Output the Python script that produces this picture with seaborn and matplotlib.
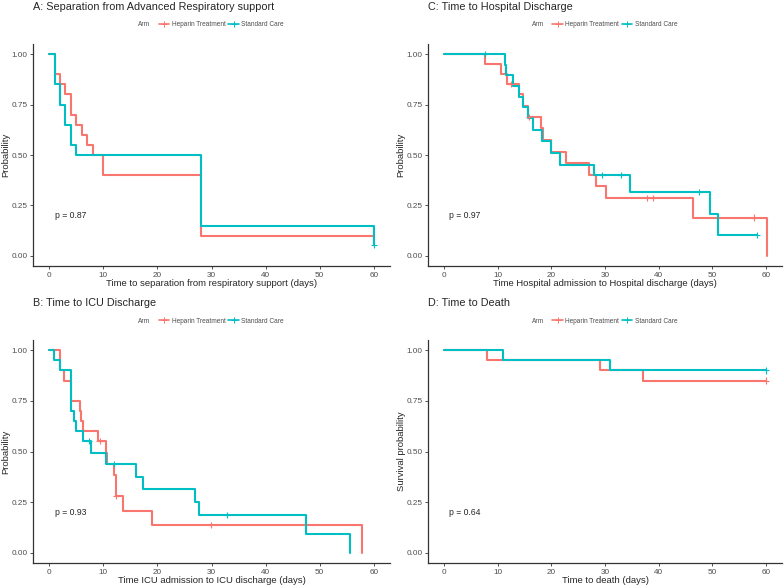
import pandas as pd
import matplotlib.pyplot as plt
import seaborn as sns
from matplotlib.lines import Line2D

ARMS = ['Heparin Treatment', 'Standard Care']
COLORS = {'Heparin Treatment': '#F8766D', 'Standard Care': '#00BFC4'}

# A: separation from advanced respiratory support
a_hep_t = [0, 1, 2, 3, 4, 5, 6, 7, 8, 10, 28, 60]
a_hep_s = [1.0, 0.90, 0.85, 0.80, 0.70, 0.65, 0.60, 0.55, 0.50, 0.40, 0.10, 0.10]
a_std_t = [0, 1, 2, 3, 4, 5, 28, 60]
a_std_s = [1.0, 0.85, 0.75, 0.65, 0.55, 0.50, 0.15, 0.055]
a_hep_cens = ([], [])
a_std_cens = ([60], [0.055])

# B: ICU discharge
b_hep_t = [0, 2.0, 2.8, 4.0, 5.7, 5.9, 6.2, 9.0, 10.5, 10.7, 11.9, 12.3, 13.6, 19.0, 57.8]
b_hep_s = [1.0, 0.90, 0.85, 0.75, 0.70, 0.65, 0.60, 0.55, 0.495, 0.44, 0.385, 0.28, 0.205, 0.138, 0.0]
b_std_t = [0, 0.9, 2.0, 4.0, 4.1, 4.5, 4.9, 6.2, 7.7, 10.5, 16.1, 17.3, 26.9, 27.6, 47.4, 55.6]
b_std_s = [1.0, 0.95, 0.90, 0.80, 0.70, 0.65, 0.60, 0.55, 0.495, 0.44, 0.375, 0.315, 0.25, 0.185, 0.095, 0.0]
b_hep_cens = ([9.3, 12.4, 29.9], [0.55, 0.28, 0.138])
b_std_cens = ([7.4, 12.0, 32.8], [0.55, 0.44, 0.185])

# C: hospital discharge
c_hep_t = [0, 7.7, 10.7, 11.8, 13.9, 14.7, 15.7, 18.1, 18.5, 19.9, 22.8, 27.0, 28.4, 30.2, 46.4, 60.2]
c_hep_s = [1.0, 0.95, 0.90, 0.85, 0.80, 0.745, 0.69, 0.633, 0.575, 0.517, 0.46, 0.40, 0.345, 0.287, 0.19, 0.0]
c_std_t = [0, 11.3, 11.6, 12.9, 14.0, 14.8, 15.7, 16.6, 18.3, 19.9, 21.7, 28.0, 34.6, 49.5, 51.1, 58.4]
c_std_s = [1.0, 0.947, 0.895, 0.842, 0.789, 0.737, 0.684, 0.625, 0.568, 0.508, 0.45, 0.40, 0.316, 0.21, 0.105, 0.105]
c_hep_cens = ([12.4, 15.8, 37.9, 39.0, 57.8], [0.85, 0.69, 0.287, 0.287, 0.19])
c_std_cens = ([7.7, 29.4, 32.9, 47.6, 58.4], [1.0, 0.40, 0.40, 0.316, 0.105])

# D: death
d_hep_t = [0, 8, 29, 37, 60]
d_hep_s = [1.0, 0.95, 0.90, 0.85, 0.85]
d_std_t = [0, 11, 31, 60]
d_std_s = [1.0, 0.95, 0.90, 0.90]
d_hep_cens = ([60], [0.85])
d_std_cens = ([60], [0.90])

panels = [
    dict(title='A: Separation from Advanced Respiratory support',
         xlabel='Time to separation from respiratory support (days)', ylabel='Probability',
         hep=(a_hep_t, a_hep_s), std=(a_std_t, a_std_s), hc=a_hep_cens, sc=a_std_cens,
         p='p = 0.87', pos=(33, 44, 390, 266)),
    dict(title='C: Time to Hospital Discharge',
         xlabel='Time Hospital admission to Hospital discharge (days)', ylabel='Probability',
         hep=(c_hep_t, c_hep_s), std=(c_std_t, c_std_s), hc=c_hep_cens, sc=c_std_cens,
         p='p = 0.97', pos=(428, 44, 782, 266)),
    dict(title='B: Time to ICU Discharge',
         xlabel='Time ICU admission to ICU discharge (days)', ylabel='Probability',
         hep=(b_hep_t, b_hep_s), std=(b_std_t, b_std_s), hc=b_hep_cens, sc=b_std_cens,
         p='p = 0.93', pos=(33, 340, 390, 563)),
    dict(title='D: Time to Death',
         xlabel='Time to death (days)', ylabel='Survival probability',
         hep=(d_hep_t, d_hep_s), std=(d_std_t, d_std_s), hc=d_hep_cens, sc=d_std_cens,
         p='p = 0.64', pos=(428, 340, 782, 563)),
]

sns.set_style("white")
plt.rcParams['font.family'] = ['Liberation Sans', 'DejaVu Sans']

W, H = 784, 585
fig = plt.figure(figsize=(W / 100, H / 100), dpi=100)

for pn in panels:
    l, t, r, b = pn['pos']
    ax = fig.add_axes([l / W, 1 - b / H, (r - l) / W, (b - t) / H])

    curves = pd.DataFrame({
        'time': list(pn['hep'][0]) + list(pn['std'][0]),
        'surv': list(pn['hep'][1]) + list(pn['std'][1]),
        'Arm': [ARMS[0]] * len(pn['hep'][0]) + [ARMS[1]] * len(pn['std'][0]),
    })
    cens = pd.DataFrame({
        'time': list(pn['hc'][0]) + list(pn['sc'][0]),
        'surv': list(pn['hc'][1]) + list(pn['sc'][1]),
        'Arm': [ARMS[0]] * len(pn['hc'][0]) + [ARMS[1]] * len(pn['sc'][0]),
    })

    sns.lineplot(data=curves, x='time', y='surv', hue='Arm', palette=COLORS,
                 estimator=None, drawstyle='steps-post', linewidth=1.5,
                 legend=False, ax=ax)
    if len(cens):
        sns.scatterplot(data=cens, x='time', y='surv', hue='Arm', palette=COLORS,
                        marker='+', s=20, linewidth=0.8, legend=False, ax=ax, zorder=3)

    ax.set_xlim(-3, 63)
    ax.set_ylim(-0.05, 1.05)
    ax.set_xticks([0, 10, 20, 30, 40, 50, 60])
    ax.set_yticks([0, 0.25, 0.5, 0.75, 1.0])
    ax.set_yticklabels(['0.00', '0.25', '0.50', '0.75', '1.00'])
    ax.tick_params(labelsize=5.9, labelcolor='#4D4D4D', color='#333333',
                   length=2.5, width=0.6, pad=1.5, direction='out', left=True, bottom=True)
    for s in ['top', 'right']:
        ax.spines[s].set_visible(False)
    for s in ['left', 'bottom']:
        ax.spines[s].set_color('#333333')
        ax.spines[s].set_linewidth(0.9)
    ax.set_xlabel(pn['xlabel'], fontsize=6.8, labelpad=0.5)
    ax.set_ylabel(pn['ylabel'], fontsize=6.8, labelpad=0.5)
    ax.text(1.0, 0.2, pn['p'], fontsize=6.2, va='center', ha='left')

    # titles and legend above each panel
    fig.text(l / W, 1 - (t - 37) / H, pn['title'], fontsize=7.8, va='center', ha='left')
    cx = (l + r) / 2
    handles = [Line2D([], [], color=COLORS[a], lw=1.2, marker='+', markersize=4,
                      markeredgewidth=0.7) for a in ARMS]
    fig.legend(handles, ARMS, loc='center', ncol=2, frameon=False, fontsize=4.7,
               bbox_to_anchor=((cx + 10) / W, 1 - (t - 19) / H),
               handlelength=1.6, handletextpad=0.4, columnspacing=0.4,
               labelcolor='#4D4D4D')
    fig.text((cx - 61) / W, 1 - (t - 19) / H, 'Arm', fontsize=4.7, va='center',
             ha='right', color='#4D4D4D')

fig.savefig('out.png', dpi=100)
